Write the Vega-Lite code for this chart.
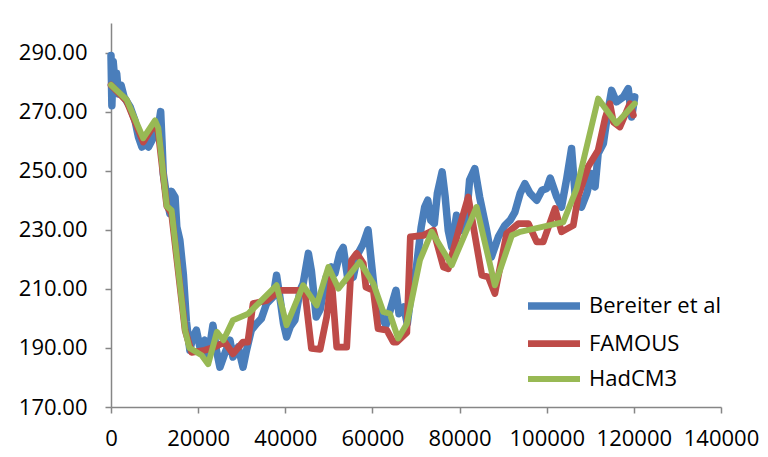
{
  "$schema": "https://vega.github.io/schema/vega-lite/v6.json",
  "width": 610,
  "height": 384,
  "autosize": {"type": "none"},
  "padding": {"left": 111, "top": 23, "right": 47, "bottom": 50},
  "background": "white",
  "config": {"view": {"stroke": null}, "font": "Open Sans"},
  "datasets": {
    "d": [
      {"s": "Bereiter et al", "x": 0, "y": 289}, {"s": "Bereiter et al", "x": 200, "y": 272}, {"s": "Bereiter et al", "x": 500, "y": 287}, {"s": "Bereiter et al", "x": 900, "y": 280}, {"s": "Bereiter et al", "x": 1300, "y": 283}, {"s": "Bereiter et al", "x": 1700, "y": 276}, {"s": "Bereiter et al", "x": 2300, "y": 279}, {"s": "Bereiter et al", "x": 3000, "y": 275}, {"s": "Bereiter et al", "x": 3800, "y": 273}, {"s": "Bereiter et al", "x": 4400, "y": 271.6}, {"s": "Bereiter et al", "x": 5500, "y": 267}, {"s": "Bereiter et al", "x": 6300, "y": 261.4}, {"s": "Bereiter et al", "x": 7100, "y": 258}, {"s": "Bereiter et al", "x": 8000, "y": 259}, {"s": "Bereiter et al", "x": 8600, "y": 258}, {"s": "Bereiter et al", "x": 9800, "y": 261.4}, {"s": "Bereiter et al", "x": 10800, "y": 264}, {"s": "Bereiter et al", "x": 11400, "y": 270}, {"s": "Bereiter et al", "x": 11700, "y": 260}, {"s": "Bereiter et al", "x": 12000, "y": 249}, {"s": "Bereiter et al", "x": 12800, "y": 241}, {"s": "Bereiter et al", "x": 13500, "y": 235.5}, {"s": "Bereiter et al", "x": 13900, "y": 243}, {"s": "Bereiter et al", "x": 14700, "y": 241}, {"s": "Bereiter et al", "x": 15100, "y": 231}, {"s": "Bereiter et al", "x": 15800, "y": 226.5}, {"s": "Bereiter et al", "x": 16600, "y": 215}, {"s": "Bereiter et al", "x": 17300, "y": 199}, {"s": "Bereiter et al", "x": 18100, "y": 189.2}, {"s": "Bereiter et al", "x": 18800, "y": 193.7}, {"s": "Bereiter et al", "x": 19600, "y": 196}, {"s": "Bereiter et al", "x": 20400, "y": 190.3}, {"s": "Bereiter et al", "x": 21500, "y": 192.6}, {"s": "Bereiter et al", "x": 22300, "y": 186.9}, {"s": "Bereiter et al", "x": 23400, "y": 197.7}, {"s": "Bereiter et al", "x": 24200, "y": 189.2}, {"s": "Bereiter et al", "x": 25000, "y": 183.5}, {"s": "Bereiter et al", "x": 26100, "y": 188}, {"s": "Bereiter et al", "x": 27300, "y": 192.6}, {"s": "Bereiter et al", "x": 28000, "y": 186.9}, {"s": "Bereiter et al", "x": 29200, "y": 190.3}, {"s": "Bereiter et al", "x": 30300, "y": 183.5}, {"s": "Bereiter et al", "x": 31100, "y": 189.2}, {"s": "Bereiter et al", "x": 32200, "y": 196}, {"s": "Bereiter et al", "x": 33400, "y": 198.2}, {"s": "Bereiter et al", "x": 34500, "y": 199.9}, {"s": "Bereiter et al", "x": 35700, "y": 205}, {"s": "Bereiter et al", "x": 37200, "y": 207.3}, {"s": "Bereiter et al", "x": 38000, "y": 214.6}, {"s": "Bereiter et al", "x": 38800, "y": 206.7}, {"s": "Bereiter et al", "x": 39600, "y": 198.2}, {"s": "Bereiter et al", "x": 40300, "y": 193.7}, {"s": "Bereiter et al", "x": 41100, "y": 197.1}, {"s": "Bereiter et al", "x": 42200, "y": 199.4}, {"s": "Bereiter et al", "x": 43400, "y": 209.5}, {"s": "Bereiter et al", "x": 44100, "y": 211.8}, {"s": "Bereiter et al", "x": 45300, "y": 222}, {"s": "Bereiter et al", "x": 46000, "y": 216}, {"s": "Bereiter et al", "x": 47100, "y": 200.5}, {"s": "Bereiter et al", "x": 48000, "y": 203}, {"s": "Bereiter et al", "x": 49400, "y": 214}, {"s": "Bereiter et al", "x": 50600, "y": 217.4}, {"s": "Bereiter et al", "x": 51400, "y": 215.2}, {"s": "Bereiter et al", "x": 52500, "y": 222}, {"s": "Bereiter et al", "x": 53300, "y": 224}, {"s": "Bereiter et al", "x": 54400, "y": 212.9}, {"s": "Bereiter et al", "x": 55600, "y": 214}, {"s": "Bereiter et al", "x": 56700, "y": 222}, {"s": "Bereiter et al", "x": 57900, "y": 225.3}, {"s": "Bereiter et al", "x": 59000, "y": 230}, {"s": "Bereiter et al", "x": 59700, "y": 219.7}, {"s": "Bereiter et al", "x": 60400, "y": 210}, {"s": "Bereiter et al", "x": 61600, "y": 201.6}, {"s": "Bereiter et al", "x": 62300, "y": 199.9}, {"s": "Bereiter et al", "x": 63100, "y": 197.7}, {"s": "Bereiter et al", "x": 64300, "y": 203.9}, {"s": "Bereiter et al", "x": 65400, "y": 209.5}, {"s": "Bereiter et al", "x": 66100, "y": 201.6}, {"s": "Bereiter et al", "x": 67200, "y": 203.9}, {"s": "Bereiter et al", "x": 68000, "y": 198.2}, {"s": "Bereiter et al", "x": 69000, "y": 209.5}, {"s": "Bereiter et al", "x": 70100, "y": 217.4}, {"s": "Bereiter et al", "x": 71200, "y": 231}, {"s": "Bereiter et al", "x": 72000, "y": 237.7}, {"s": "Bereiter et al", "x": 72700, "y": 240}, {"s": "Bereiter et al", "x": 73400, "y": 233.2}, {"s": "Bereiter et al", "x": 74200, "y": 232.1}, {"s": "Bereiter et al", "x": 74900, "y": 242.3}, {"s": "Bereiter et al", "x": 76000, "y": 249.6}, {"s": "Bereiter et al", "x": 76700, "y": 241.1}, {"s": "Bereiter et al", "x": 77400, "y": 229.8}, {"s": "Bereiter et al", "x": 78200, "y": 224.2}, {"s": "Bereiter et al", "x": 79300, "y": 234.9}, {"s": "Bereiter et al", "x": 80400, "y": 229.8}, {"s": "Bereiter et al", "x": 81600, "y": 234.3}, {"s": "Bereiter et al", "x": 82300, "y": 246.8}, {"s": "Bereiter et al", "x": 83500, "y": 250.7}, {"s": "Bereiter et al", "x": 84600, "y": 241.1}, {"s": "Bereiter et al", "x": 86200, "y": 229.8}, {"s": "Bereiter et al", "x": 87300, "y": 220.8}, {"s": "Bereiter et al", "x": 88100, "y": 224.2}, {"s": "Bereiter et al", "x": 88900, "y": 227.6}, {"s": "Bereiter et al", "x": 90400, "y": 231.5}, {"s": "Bereiter et al", "x": 91600, "y": 233.2}, {"s": "Bereiter et al", "x": 92700, "y": 236}, {"s": "Bereiter et al", "x": 93900, "y": 242.3}, {"s": "Bereiter et al", "x": 95000, "y": 245.6}, {"s": "Bereiter et al", "x": 96200, "y": 242.3}, {"s": "Bereiter et al", "x": 97700, "y": 240}, {"s": "Bereiter et al", "x": 98900, "y": 243.4}, {"s": "Bereiter et al", "x": 100000, "y": 244}, {"s": "Bereiter et al", "x": 100800, "y": 247.5}, {"s": "Bereiter et al", "x": 102300, "y": 241.1}, {"s": "Bereiter et al", "x": 103400, "y": 237.7}, {"s": "Bereiter et al", "x": 104600, "y": 247.4}, {"s": "Bereiter et al", "x": 105700, "y": 257.5}, {"s": "Bereiter et al", "x": 106500, "y": 242.3}, {"s": "Bereiter et al", "x": 108000, "y": 237.7}, {"s": "Bereiter et al", "x": 109200, "y": 242.3}, {"s": "Bereiter et al", "x": 110300, "y": 249}, {"s": "Bereiter et al", "x": 111100, "y": 244.5}, {"s": "Bereiter et al", "x": 111800, "y": 255.8}, {"s": "Bereiter et al", "x": 113000, "y": 259.2}, {"s": "Bereiter et al", "x": 114100, "y": 270.5}, {"s": "Bereiter et al", "x": 114900, "y": 277.2}, {"s": "Bereiter et al", "x": 116000, "y": 273.3}, {"s": "Bereiter et al", "x": 117600, "y": 275}, {"s": "Bereiter et al", "x": 118700, "y": 277.8}, {"s": "Bereiter et al", "x": 119500, "y": 268.2}, {"s": "Bereiter et al", "x": 120200, "y": 275},
      {"s": "FAMOUS", "x": 0, "y": 279}, {"s": "FAMOUS", "x": 3600, "y": 273.5}, {"s": "FAMOUS", "x": 7400, "y": 259.7}, {"s": "FAMOUS", "x": 10100, "y": 266}, {"s": "FAMOUS", "x": 10850, "y": 263}, {"s": "FAMOUS", "x": 12800, "y": 238}, {"s": "FAMOUS", "x": 13900, "y": 235.5}, {"s": "FAMOUS", "x": 17000, "y": 196}, {"s": "FAMOUS", "x": 18500, "y": 188.5}, {"s": "FAMOUS", "x": 21500, "y": 189.2}, {"s": "FAMOUS", "x": 23800, "y": 190.3}, {"s": "FAMOUS", "x": 26100, "y": 192}, {"s": "FAMOUS", "x": 28000, "y": 188}, {"s": "FAMOUS", "x": 30300, "y": 192}, {"s": "FAMOUS", "x": 31400, "y": 192}, {"s": "FAMOUS", "x": 32600, "y": 205}, {"s": "FAMOUS", "x": 35800, "y": 206.1}, {"s": "FAMOUS", "x": 38800, "y": 209.5}, {"s": "FAMOUS", "x": 43000, "y": 209.5}, {"s": "FAMOUS", "x": 44500, "y": 209}, {"s": "FAMOUS", "x": 46000, "y": 189.8}, {"s": "FAMOUS", "x": 48000, "y": 189.5}, {"s": "FAMOUS", "x": 49500, "y": 200.5}, {"s": "FAMOUS", "x": 50600, "y": 213.5}, {"s": "FAMOUS", "x": 51800, "y": 190.3}, {"s": "FAMOUS", "x": 54100, "y": 190.3}, {"s": "FAMOUS", "x": 55200, "y": 219.7}, {"s": "FAMOUS", "x": 56400, "y": 222}, {"s": "FAMOUS", "x": 57900, "y": 218.6}, {"s": "FAMOUS", "x": 58500, "y": 210.6}, {"s": "FAMOUS", "x": 60200, "y": 209.5}, {"s": "FAMOUS", "x": 61300, "y": 196.5}, {"s": "FAMOUS", "x": 63300, "y": 196}, {"s": "FAMOUS", "x": 64800, "y": 192}, {"s": "FAMOUS", "x": 65600, "y": 192}, {"s": "FAMOUS", "x": 67900, "y": 195.2}, {"s": "FAMOUS", "x": 68700, "y": 227.6}, {"s": "FAMOUS", "x": 71700, "y": 228.1}, {"s": "FAMOUS", "x": 74000, "y": 229.8}, {"s": "FAMOUS", "x": 76300, "y": 217.4}, {"s": "FAMOUS", "x": 77400, "y": 216.8}, {"s": "FAMOUS", "x": 80100, "y": 231.5}, {"s": "FAMOUS", "x": 82000, "y": 241.1}, {"s": "FAMOUS", "x": 85100, "y": 214.6}, {"s": "FAMOUS", "x": 86600, "y": 214}, {"s": "FAMOUS", "x": 88100, "y": 208.4}, {"s": "FAMOUS", "x": 90800, "y": 228.7}, {"s": "FAMOUS", "x": 93500, "y": 232.1}, {"s": "FAMOUS", "x": 95800, "y": 232.1}, {"s": "FAMOUS", "x": 97700, "y": 225.9}, {"s": "FAMOUS", "x": 99200, "y": 225.9}, {"s": "FAMOUS", "x": 101900, "y": 237.2}, {"s": "FAMOUS", "x": 103400, "y": 229.3}, {"s": "FAMOUS", "x": 106100, "y": 231.5}, {"s": "FAMOUS", "x": 107200, "y": 241.1}, {"s": "FAMOUS", "x": 109500, "y": 251.3}, {"s": "FAMOUS", "x": 111800, "y": 256.9}, {"s": "FAMOUS", "x": 113400, "y": 267.7}, {"s": "FAMOUS", "x": 114500, "y": 272.7}, {"s": "FAMOUS", "x": 115300, "y": 266.5}, {"s": "FAMOUS", "x": 116800, "y": 264.8}, {"s": "FAMOUS", "x": 119100, "y": 272.7}, {"s": "FAMOUS", "x": 119900, "y": 268.8},
      {"s": "HadCM3", "x": 0, "y": 279}, {"s": "HadCM3", "x": 3600, "y": 274}, {"s": "HadCM3", "x": 7400, "y": 261}, {"s": "HadCM3", "x": 10100, "y": 267}, {"s": "HadCM3", "x": 10850, "y": 264.5}, {"s": "HadCM3", "x": 12800, "y": 238}, {"s": "HadCM3", "x": 13900, "y": 236.6}, {"s": "HadCM3", "x": 17000, "y": 196}, {"s": "HadCM3", "x": 18000, "y": 190}, {"s": "HadCM3", "x": 20800, "y": 187.5}, {"s": "HadCM3", "x": 22300, "y": 184.5}, {"s": "HadCM3", "x": 24300, "y": 195.4}, {"s": "HadCM3", "x": 25800, "y": 192.6}, {"s": "HadCM3", "x": 28000, "y": 199.4}, {"s": "HadCM3", "x": 31500, "y": 201.6}, {"s": "HadCM3", "x": 34200, "y": 205.6}, {"s": "HadCM3", "x": 38000, "y": 211.2}, {"s": "HadCM3", "x": 40300, "y": 197.7}, {"s": "HadCM3", "x": 44100, "y": 211.2}, {"s": "HadCM3", "x": 47200, "y": 204.4}, {"s": "HadCM3", "x": 49900, "y": 217.4}, {"s": "HadCM3", "x": 52200, "y": 210.1}, {"s": "HadCM3", "x": 57100, "y": 219.1}, {"s": "HadCM3", "x": 60200, "y": 211.8}, {"s": "HadCM3", "x": 62500, "y": 202.2}, {"s": "HadCM3", "x": 64000, "y": 201.6}, {"s": "HadCM3", "x": 65900, "y": 193.2}, {"s": "HadCM3", "x": 67900, "y": 198.2}, {"s": "HadCM3", "x": 70900, "y": 219.7}, {"s": "HadCM3", "x": 73600, "y": 229.3}, {"s": "HadCM3", "x": 78200, "y": 218}, {"s": "HadCM3", "x": 83900, "y": 237.7}, {"s": "HadCM3", "x": 88100, "y": 211.2}, {"s": "HadCM3", "x": 92000, "y": 228.1}, {"s": "HadCM3", "x": 93900, "y": 229.3}, {"s": "HadCM3", "x": 103800, "y": 232.6}, {"s": "HadCM3", "x": 106900, "y": 244}, {"s": "HadCM3", "x": 111800, "y": 274.4}, {"s": "HadCM3", "x": 116000, "y": 266}, {"s": "HadCM3", "x": 120200, "y": 272.7}
    ]
  },
  "data": {"name": "d"},
  "mark": {"type": "line", "strokeJoin": "round", "strokeCap": "round"},
  "encoding": {
    "x": {
      "field": "x", "type": "quantitative",
      "scale": {"domain": [0, 140000], "nice": false, "zero": false},
      "axis": {
        "values": [0, 20000, 40000, 60000, 80000, 100000, 120000, 140000],
        "format": "d", "title": null, "grid": false,
        "labelFontSize": 22, "labelColor": "#000000", "labelFont": "Open Sans",
        "domainColor": "#868686", "domainWidth": 1.5, "tickColor": "#868686", "tickWidth": 1.5, "tickSize": 6,
        "labelPadding": 15, "labelFlush": false, "labelOverlap": false
      }
    },
    "y": {
      "field": "y", "type": "quantitative",
      "scale": {"domain": [170, 300], "nice": false, "zero": false},
      "axis": {
        "values": [170, 190, 210, 230, 250, 270, 290],
        "format": ".2f", "title": null, "grid": false,
        "labelFontSize": 22, "labelColor": "#000000", "labelFont": "Open Sans",
        "domainColor": "#868686", "domainWidth": 1.5, "tickColor": "#868686", "tickWidth": 1.5, "tickSize": 6,
        "labelPadding": 18, "labelFlush": false, "labelOverlap": false
      }
    },
    "color": {
      "field": "s", "type": "nominal",
      "scale": {"domain": ["Bereiter et al", "FAMOUS", "HadCM3"], "range": ["#4A7EBB", "#BE4B48", "#98B954"]},
      "legend": {
        "title": null, "orient": "none", "legendX": 426, "legendY": 266,
        "symbolType": "M-2,0H2", "symbolSize": 676, "symbolStrokeWidth": 6,
        "labelFontSize": 22, "labelColor": "#000000", "labelFont": "Open Sans", "labelOffset": 18,
        "rowPadding": 6, "padding": 0
      }
    },
    "strokeWidth": {
      "field": "s", "type": "nominal",
      "scale": {"domain": ["Bereiter et al", "FAMOUS", "HadCM3"], "range": [7.5, 6, 6]},
      "legend": null
    }
  }
}
